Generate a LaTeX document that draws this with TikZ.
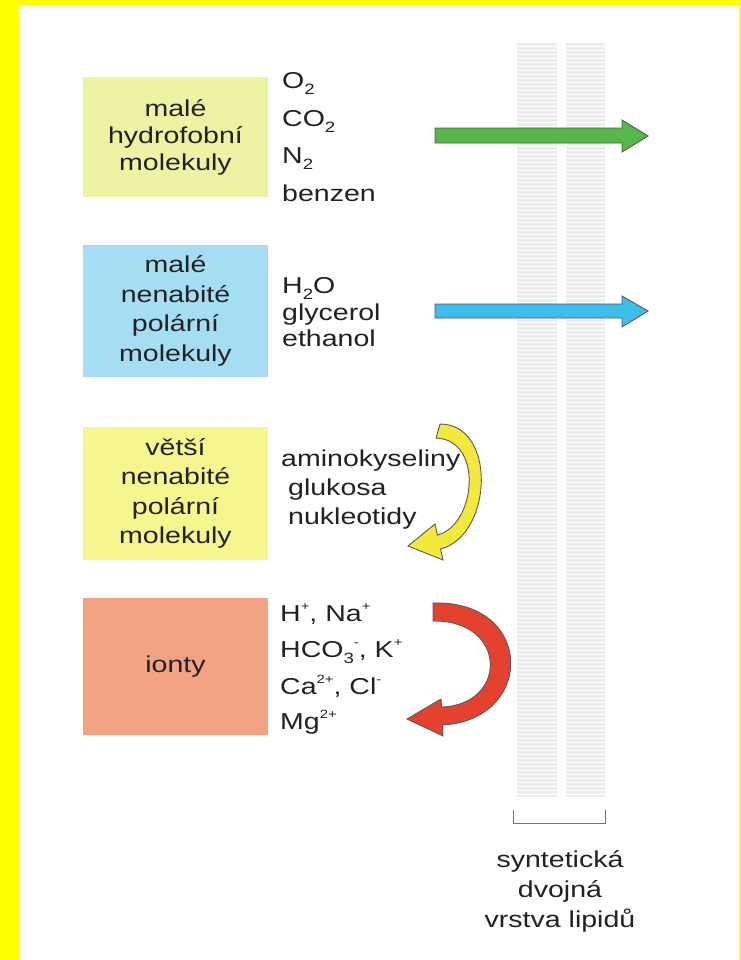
\documentclass[tikz,border=0pt]{standalone}
\usepackage{fontspec}
\setmainfont{Liberation Sans}[FakeStretch=1.24]
\definecolor{boxA}{HTML}{EEF3A3}
\definecolor{boxB}{HTML}{A5DEF3}
\definecolor{boxC}{HTML}{F6F68E}
\definecolor{boxD}{HTML}{F3A383}
\definecolor{txt}{HTML}{222222}
\definecolor{arrG}{HTML}{55B848}
\definecolor{arrB}{HTML}{3CBDEC}
\definecolor{arrY}{HTML}{F3E83C}
\definecolor{arrR}{HTML}{E4422F}
\definecolor{framey}{HTML}{FFFF00}
\definecolor{memb}{HTML}{ECEEEE}
\newcommand{\chemdn}[1]{\raisebox{-0.28em}{\fontsize{15bp}{15bp}\selectfont #1}}
\newcommand{\chemup}[1]{\raisebox{0.45em}{\fontsize{12bp}{12bp}\selectfont #1}}
\tikzset{
  catbox/.style={rectangle, inner sep=0pt, minimum width=185bp, text=txt, align=center},
  listitem/.style={anchor=base west, inner sep=0pt, text=txt, font=\fontsize{23bp}{27bp}\selectfont},
  arrowout/.style={draw=black!65, line width=0.9bp, line join=miter},
  membstrip/.style={fill=memb, draw=none},
}
\begin{document}
\begin{tikzpicture}[x=1bp,y=-1bp]
\useasboundingbox (0,0) rectangle (741,960);
\fill[framey] (0,0) rectangle (741,960);
\fill[white] (19,5) rectangle (739,960);

% membrane
\fill[membstrip] (517,43) rectangle (557,797);
\fill[membstrip] (566,43) rectangle (605,797);
\foreach \yy in {46,50,...,795} {
  \draw[white, line width=0.7bp] (517,\yy) -- (557,\yy);
  \draw[white, line width=0.7bp] (566,\yy) -- (605,\yy);
}
\coordinate (brL) at (513,810);
\coordinate (brR) at (605,810);
\draw[black!55, line width=1bp] (brL) -- ++(0,13) -| (brR);
\node[text=txt, align=center, inner sep=0pt, font=\fontsize{23bp}{30bp}\selectfont] (memlabel) at (560,891) {syntetická\\dvojná\\vrstva lipidů};

% category boxes
\node[catbox, fill=boxA, minimum height=120bp, font=\fontsize{23bp}{27bp}\selectfont] (b1) at (175.5,137) {malé\\hydrofobní\\molekuly};
\node[catbox, fill=boxB, minimum height=132bp, font=\fontsize{23bp}{29.5bp}\selectfont] (b2) at (175.5,311) {malé\\nenabité\\polární\\molekuly};
\node[catbox, fill=boxC, minimum height=133bp, font=\fontsize{23bp}{29.5bp}\selectfont] (b3) at (175.5,493.5) {větší\\nenabité\\polární\\molekuly};
\node[catbox, fill=boxD, minimum height=137bp, font=\fontsize{23bp}{27bp}\selectfont] (b4) at (175.5,666.5) {ionty};

% lists
\node[listitem] (l1a) at (282,88) {O\chemdn{2}};
\node[listitem] (l1b) at (282,126) {CO\chemdn{2}};
\node[listitem] (l1c) at (282,163) {N\chemdn{2}};
\node[listitem] (l1d) at (282,201) {benzen};

\node[listitem] (l2a) at (282,293) {H\chemdn{2}O};
\node[listitem] (l2b) at (282,320) {glycerol};
\node[listitem] (l2c) at (282,346) {ethanol};

\node[listitem] (l3a) at (281,466) {aminokyseliny};
\node[listitem] (l3b) at (288,495) {glukosa};
\node[listitem] (l3c) at (288,524) {nukleotidy};

\node[listitem] (l4a) at (280,621) {H\chemup{+}, Na\chemup{+}};
\node[listitem] (l4b) at (280,657) {HCO\chemdn{3}\chemup{-}, K\chemup{+}};
\node[listitem] (l4c) at (280,694) {Ca\chemup{2+}, Cl\chemup{-}};
\node[listitem] (l4d) at (280,729) {Mg\chemup{2+}};

% straight arrows
\draw[arrowout, fill=arrG] (435,128) -- (622,128) -- (622,120) -- (648,136) -- (622,152) -- (622,143) -- (435,143) -- cycle;
\draw[arrowout, fill=arrB] (435,304) -- (622,304) -- (622,296) -- (648,311) -- (622,327) -- (622,318) -- (435,318) -- cycle;

% curved arrows
\draw[arrowout, fill=arrY] (440,424) .. controls (497,424) and (493,535) .. (440.6,549) -- (443,560) -- (408,546) -- (435,524) -- (437.4,535) .. controls (476,525) and (484,440) .. (436,438) -- cycle;
\draw[arrowout, fill=arrR] (433,603) .. controls (535,600) and (535,720) .. (442.5,725) -- (443,736) -- (407,719) -- (441,699) -- (441.5,707) .. controls (508,705) and (508,620) .. (433,621) -- cycle;
\end{tikzpicture}
\end{document}
